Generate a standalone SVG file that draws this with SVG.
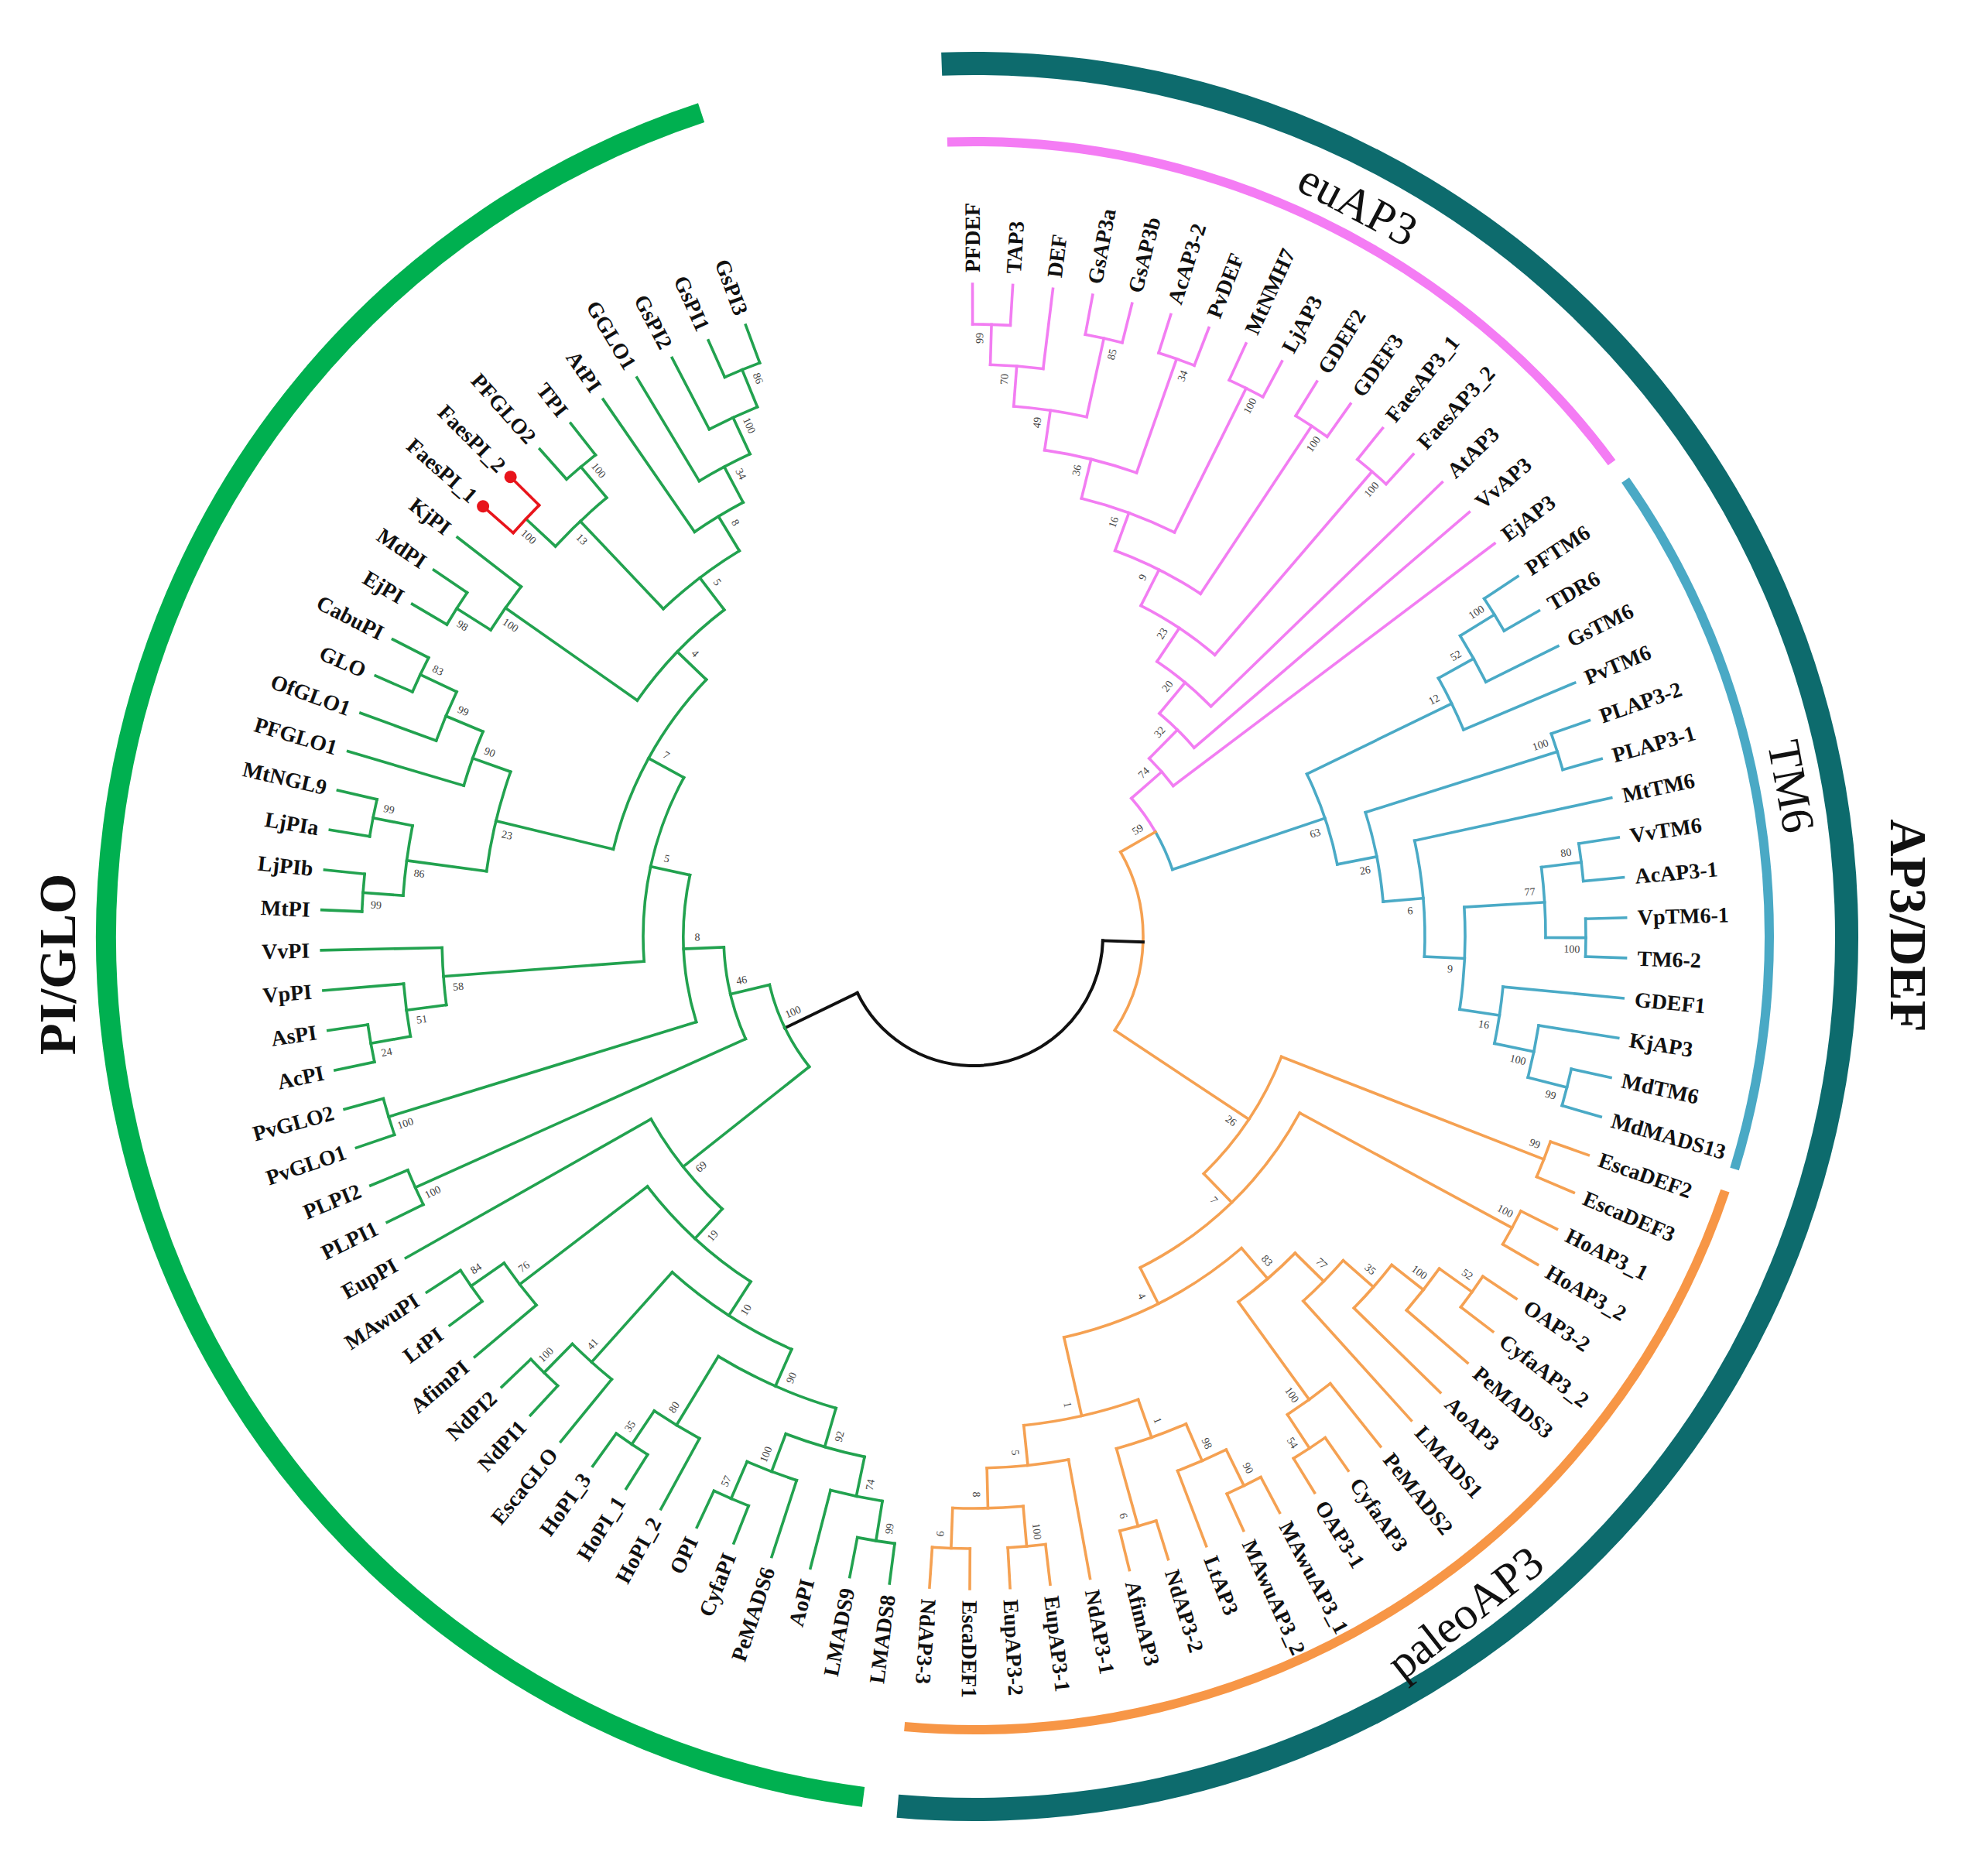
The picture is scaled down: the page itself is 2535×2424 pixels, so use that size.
<svg xmlns="http://www.w3.org/2000/svg" width="2535" height="2424" viewBox="0 0 2535 2424">
<style>
.lf{font-family:"Liberation Serif","Times New Roman",serif;font-weight:bold;font-size:28px;fill:#111;dominant-baseline:central}
.e{text-anchor:end}
.bs{font-family:"Liberation Serif","Times New Roman",serif;font-size:14px;fill:#444;text-anchor:middle;dominant-baseline:central}
.cl{font-family:"Liberation Serif","Times New Roman",serif;font-size:60px;fill:#111;text-anchor:middle;dominant-baseline:central}
.big{font-family:"Liberation Serif","Times New Roman",serif;font-weight:bold;font-size:67px;fill:#111;text-anchor:middle;dominant-baseline:central}
.ca{fill:none}
</style>
<rect width="2535" height="2424" fill="#fff"/>
<g transform="translate(1258 1210)">
<g id="clade-arcs" class="ca">
<circle r="1121" pathLength="360" stroke-dasharray="154.4 360" transform="rotate(97.3)" stroke="#00b050" stroke-width="26"/>
<circle r="1128" pathLength="360" stroke-dasharray="187.1 360" transform="rotate(-92.1)" stroke="#0d6b6d" stroke-width="30"/>
<circle r="1027" pathLength="360" stroke-dasharray="55.3 360" transform="rotate(-91.9)" stroke="#f47cf4" stroke-width="12"/>
<circle r="1028" pathLength="360" stroke-dasharray="52 360" transform="rotate(-35)" stroke="#4aa9c5" stroke-width="12"/>
<circle r="1025" pathLength="360" stroke-dasharray="76.3 360" transform="rotate(18.7)" stroke="#f79646" stroke-width="12"/>
</g>
<g id="clade-labels">
<text class="cl" transform="rotate(-62.3) translate(1068 0) rotate(90)">euAP3</text>
<text class="cl" font-size="64" transform="rotate(-10.4) translate(1074 0) rotate(90)">TM6</text>
<text class="cl" font-size="62" transform="rotate(54) translate(1080 0) rotate(-92)">paleoAP3</text>
<text class="big" transform="translate(1208 -14) rotate(90)">AP3/DEF</text>
<text class="big" transform="translate(-1184 36) rotate(-90)">PI/GLO</text>
</g>
<g id="connectors" fill="none" stroke-width="3.6" stroke-linecap="square">
<g id="c-euAP3" stroke="#f27df2">
<line x1="791" x2="843" transform="rotate(-90.10)"/>
<line x1="791" x2="843" transform="rotate(-86.56)"/>
<line x1="739" x2="843" transform="rotate(-83.02)"/>
<line x1="791" x2="843" transform="rotate(-79.49)"/>
<line x1="791" x2="843" transform="rotate(-75.95)"/>
<line x1="791" x2="843" transform="rotate(-72.41)"/>
<line x1="791" x2="843" transform="rotate(-68.87)"/>
<line x1="791" x2="843" transform="rotate(-65.33)"/>
<line x1="791" x2="843" transform="rotate(-61.80)"/>
<line x1="791" x2="843" transform="rotate(-58.26)"/>
<line x1="791" x2="843" transform="rotate(-54.72)"/>
<line x1="791" x2="843" transform="rotate(-51.18)"/>
<line x1="791" x2="843" transform="rotate(-47.64)"/>
<line x1="427" x2="843" transform="rotate(-44.11)"/>
<line x1="375" x2="843" transform="rotate(-40.57)"/>
<line x1="323" x2="843" transform="rotate(-37.03)"/>
<line x1="739" x2="791" transform="rotate(-88.33)"/>
<line x1="687" x2="739" transform="rotate(-85.68)"/>
<line x1="687" x2="791" transform="rotate(-77.72)"/>
<line x1="635" x2="687" transform="rotate(-81.70)"/>
<line x1="635" x2="791" transform="rotate(-70.64)"/>
<line x1="583" x2="635" transform="rotate(-76.17)"/>
<line x1="583" x2="791" transform="rotate(-63.57)"/>
<line x1="531" x2="583" transform="rotate(-69.87)"/>
<line x1="531" x2="791" transform="rotate(-56.49)"/>
<line x1="479" x2="531" transform="rotate(-63.18)"/>
<line x1="479" x2="791" transform="rotate(-49.41)"/>
<line x1="427" x2="479" transform="rotate(-56.30)"/>
<line x1="375" x2="427" transform="rotate(-50.21)"/>
<line x1="323" x2="375" transform="rotate(-45.39)"/>
<line x1="271" x2="323" transform="rotate(-41.21)"/>
<circle r="791" pathLength="360" stroke-dasharray="3.54 360" transform="rotate(-90.10)"/>
<circle r="739" pathLength="360" stroke-dasharray="5.31 360" transform="rotate(-88.33)"/>
<circle r="791" pathLength="360" stroke-dasharray="3.54 360" transform="rotate(-79.49)"/>
<circle r="687" pathLength="360" stroke-dasharray="7.96 360" transform="rotate(-85.68)"/>
<circle r="791" pathLength="360" stroke-dasharray="3.54 360" transform="rotate(-72.41)"/>
<circle r="635" pathLength="360" stroke-dasharray="11.06 360" transform="rotate(-81.70)"/>
<circle r="791" pathLength="360" stroke-dasharray="3.53 360" transform="rotate(-65.33)"/>
<circle r="583" pathLength="360" stroke-dasharray="12.60 360" transform="rotate(-76.17)"/>
<circle r="791" pathLength="360" stroke-dasharray="3.54 360" transform="rotate(-58.26)"/>
<circle r="531" pathLength="360" stroke-dasharray="13.38 360" transform="rotate(-69.87)"/>
<circle r="791" pathLength="360" stroke-dasharray="3.54 360" transform="rotate(-51.18)"/>
<circle r="479" pathLength="360" stroke-dasharray="13.77 360" transform="rotate(-63.18)"/>
<circle r="427" pathLength="360" stroke-dasharray="12.19 360" transform="rotate(-56.30)"/>
<circle r="375" pathLength="360" stroke-dasharray="9.64 360" transform="rotate(-50.21)"/>
<circle r="323" pathLength="360" stroke-dasharray="8.36 360" transform="rotate(-45.39)"/>
<circle r="271" pathLength="360" stroke-dasharray="11.30 360" transform="rotate(-41.21)"/>
</g>
<g id="c-TM6" stroke="#4aaac6">
<line x1="791" x2="843" transform="rotate(-33.49)"/>
<line x1="791" x2="843" transform="rotate(-29.95)"/>
<line x1="739" x2="843" transform="rotate(-26.42)"/>
<line x1="687" x2="843" transform="rotate(-22.88)"/>
<line x1="791" x2="843" transform="rotate(-19.34)"/>
<line x1="791" x2="843" transform="rotate(-15.80)"/>
<line x1="583" x2="843" transform="rotate(-12.26)"/>
<line x1="791" x2="843" transform="rotate(-8.73)"/>
<line x1="791" x2="843" transform="rotate(-5.19)"/>
<line x1="791" x2="843" transform="rotate(-1.65)"/>
<line x1="791" x2="843" transform="rotate(1.89)"/>
<line x1="687" x2="843" transform="rotate(5.43)"/>
<line x1="739" x2="843" transform="rotate(8.96)"/>
<line x1="791" x2="843" transform="rotate(12.50)"/>
<line x1="791" x2="843" transform="rotate(16.04)"/>
<line x1="739" x2="791" transform="rotate(-31.72)"/>
<line x1="687" x2="739" transform="rotate(-29.07)"/>
<line x1="479" x2="687" transform="rotate(-25.98)"/>
<line x1="531" x2="791" transform="rotate(-17.57)"/>
<line x1="739" x2="791" transform="rotate(-6.96)"/>
<line x1="739" x2="791" transform="rotate(0.12)"/>
<line x1="635" x2="739" transform="rotate(-3.42)"/>
<line x1="739" x2="791" transform="rotate(14.27)"/>
<line x1="687" x2="739" transform="rotate(11.62)"/>
<line x1="635" x2="687" transform="rotate(8.53)"/>
<line x1="583" x2="635" transform="rotate(2.56)"/>
<line x1="531" x2="583" transform="rotate(-4.85)"/>
<line x1="479" x2="531" transform="rotate(-11.21)"/>
<line x1="271" x2="479" transform="rotate(-18.60)"/>
<circle r="791" pathLength="360" stroke-dasharray="3.54 360" transform="rotate(-33.49)"/>
<circle r="739" pathLength="360" stroke-dasharray="5.30 360" transform="rotate(-31.72)"/>
<circle r="687" pathLength="360" stroke-dasharray="6.19 360" transform="rotate(-29.07)"/>
<circle r="791" pathLength="360" stroke-dasharray="3.54 360" transform="rotate(-19.34)"/>
<circle r="791" pathLength="360" stroke-dasharray="3.54 360" transform="rotate(-8.73)"/>
<circle r="791" pathLength="360" stroke-dasharray="3.54 360" transform="rotate(-1.65)"/>
<circle r="739" pathLength="360" stroke-dasharray="7.08 360" transform="rotate(-6.96)"/>
<circle r="791" pathLength="360" stroke-dasharray="3.54 360" transform="rotate(12.50)"/>
<circle r="739" pathLength="360" stroke-dasharray="5.31 360" transform="rotate(8.96)"/>
<circle r="687" pathLength="360" stroke-dasharray="6.19 360" transform="rotate(5.43)"/>
<circle r="635" pathLength="360" stroke-dasharray="11.95 360" transform="rotate(-3.42)"/>
<circle r="583" pathLength="360" stroke-dasharray="14.82 360" transform="rotate(-12.26)"/>
<circle r="531" pathLength="360" stroke-dasharray="12.72 360" transform="rotate(-17.57)"/>
<circle r="479" pathLength="360" stroke-dasharray="14.77 360" transform="rotate(-25.98)"/>
<circle r="271" pathLength="360" stroke-dasharray="11.31 360" transform="rotate(-29.91)"/>
</g>
<g id="c-paleoAP3" stroke="#f5a152">
<line x1="791" x2="843" transform="rotate(19.58)"/>
<line x1="791" x2="843" transform="rotate(23.12)"/>
<line x1="791" x2="843" transform="rotate(26.65)"/>
<line x1="791" x2="843" transform="rotate(30.19)"/>
<line x1="791" x2="843" transform="rotate(33.73)"/>
<line x1="791" x2="843" transform="rotate(37.27)"/>
<line x1="739" x2="843" transform="rotate(40.81)"/>
<line x1="687" x2="843" transform="rotate(44.34)"/>
<line x1="635" x2="843" transform="rotate(47.88)"/>
<line x1="739" x2="843" transform="rotate(51.42)"/>
<line x1="791" x2="843" transform="rotate(54.96)"/>
<line x1="791" x2="843" transform="rotate(58.50)"/>
<line x1="791" x2="843" transform="rotate(62.03)"/>
<line x1="791" x2="843" transform="rotate(65.57)"/>
<line x1="739" x2="843" transform="rotate(69.11)"/>
<line x1="791" x2="843" transform="rotate(72.65)"/>
<line x1="791" x2="843" transform="rotate(76.19)"/>
<line x1="687" x2="843" transform="rotate(79.72)"/>
<line x1="791" x2="843" transform="rotate(83.26)"/>
<line x1="791" x2="843" transform="rotate(86.80)"/>
<line x1="791" x2="843" transform="rotate(90.34)"/>
<line x1="791" x2="843" transform="rotate(93.88)"/>
<line x1="219" x2="271" transform="rotate(-29.91)"/>
<line x1="219" x2="427" transform="rotate(33.61)"/>
<line x1="427" x2="791" transform="rotate(21.35)"/>
<line x1="427" x2="479" transform="rotate(45.87)"/>
<line x1="479" x2="791" transform="rotate(28.42)"/>
<line x1="479" x2="531" transform="rotate(63.31)"/>
<line x1="531" x2="583" transform="rotate(49.33)"/>
<line x1="531" x2="635" transform="rotate(77.30)"/>
<line x1="583" x2="635" transform="rotate(44.57)"/>
<line x1="583" x2="739" transform="rotate(54.08)"/>
<line x1="635" x2="687" transform="rotate(41.25)"/>
<line x1="687" x2="739" transform="rotate(38.16)"/>
<line x1="739" x2="791" transform="rotate(35.50)"/>
<line x1="739" x2="791" transform="rotate(56.73)"/>
<line x1="635" x2="687" transform="rotate(70.44)"/>
<line x1="635" x2="687" transform="rotate(84.15)"/>
<line x1="687" x2="739" transform="rotate(66.46)"/>
<line x1="687" x2="791" transform="rotate(74.42)"/>
<line x1="739" x2="791" transform="rotate(63.80)"/>
<line x1="687" x2="739" transform="rotate(88.57)"/>
<line x1="739" x2="791" transform="rotate(85.03)"/>
<line x1="739" x2="791" transform="rotate(92.11)"/>
<circle r="219" pathLength="360" stroke-dasharray="63.52 360" transform="rotate(-29.91)"/>
<circle r="791" pathLength="360" stroke-dasharray="3.54 360" transform="rotate(19.58)"/>
<circle r="791" pathLength="360" stroke-dasharray="3.54 360" transform="rotate(26.65)"/>
<circle r="791" pathLength="360" stroke-dasharray="3.54 360" transform="rotate(33.73)"/>
<circle r="739" pathLength="360" stroke-dasharray="5.31 360" transform="rotate(35.50)"/>
<circle r="687" pathLength="360" stroke-dasharray="6.18 360" transform="rotate(38.16)"/>
<circle r="635" pathLength="360" stroke-dasharray="6.63 360" transform="rotate(41.25)"/>
<circle r="791" pathLength="360" stroke-dasharray="3.54 360" transform="rotate(54.96)"/>
<circle r="739" pathLength="360" stroke-dasharray="5.31 360" transform="rotate(51.42)"/>
<circle r="583" pathLength="360" stroke-dasharray="9.51 360" transform="rotate(44.57)"/>
<circle r="791" pathLength="360" stroke-dasharray="3.54 360" transform="rotate(62.03)"/>
<circle r="739" pathLength="360" stroke-dasharray="5.31 360" transform="rotate(63.80)"/>
<circle r="791" pathLength="360" stroke-dasharray="3.54 360" transform="rotate(72.65)"/>
<circle r="687" pathLength="360" stroke-dasharray="7.96 360" transform="rotate(66.46)"/>
<circle r="791" pathLength="360" stroke-dasharray="3.54 360" transform="rotate(83.26)"/>
<circle r="791" pathLength="360" stroke-dasharray="3.54 360" transform="rotate(90.34)"/>
<circle r="739" pathLength="360" stroke-dasharray="7.08 360" transform="rotate(85.03)"/>
<circle r="687" pathLength="360" stroke-dasharray="8.85 360" transform="rotate(79.72)"/>
<circle r="635" pathLength="360" stroke-dasharray="13.71 360" transform="rotate(70.44)"/>
<circle r="531" pathLength="360" stroke-dasharray="27.97 360" transform="rotate(49.33)"/>
<circle r="479" pathLength="360" stroke-dasharray="34.89 360" transform="rotate(28.42)"/>
<circle r="427" pathLength="360" stroke-dasharray="24.52 360" transform="rotate(21.35)"/>
</g>
<g id="c-root" stroke="#111" stroke-width="4">
<line x1="167" x2="219" transform="rotate(1.85)"/>
<line x1="167" x2="271" transform="rotate(154.13)"/>
<circle r="167" pathLength="360" stroke-dasharray="152.28 360" transform="rotate(1.85)"/>
</g>
<g id="c-PIGLO" stroke="#22a24f">
<line x1="791" x2="843" transform="rotate(97.41)"/>
<line x1="791" x2="843" transform="rotate(100.95)"/>
<line x1="739" x2="843" transform="rotate(104.49)"/>
<line x1="739" x2="843" transform="rotate(108.03)"/>
<line x1="791" x2="843" transform="rotate(111.57)"/>
<line x1="791" x2="843" transform="rotate(115.10)"/>
<line x1="739" x2="843" transform="rotate(118.64)"/>
<line x1="791" x2="843" transform="rotate(122.18)"/>
<line x1="791" x2="843" transform="rotate(125.72)"/>
<line x1="739" x2="843" transform="rotate(129.26)"/>
<line x1="791" x2="843" transform="rotate(132.79)"/>
<line x1="791" x2="843" transform="rotate(136.33)"/>
<line x1="739" x2="843" transform="rotate(139.87)"/>
<line x1="791" x2="843" transform="rotate(143.41)"/>
<line x1="791" x2="843" transform="rotate(146.95)"/>
<line x1="479" x2="843" transform="rotate(150.48)"/>
<line x1="791" x2="843" transform="rotate(154.02)"/>
<line x1="791" x2="843" transform="rotate(157.56)"/>
<line x1="791" x2="843" transform="rotate(161.10)"/>
<line x1="791" x2="843" transform="rotate(164.64)"/>
<line x1="791" x2="843" transform="rotate(168.17)"/>
<line x1="791" x2="843" transform="rotate(171.71)"/>
<line x1="739" x2="843" transform="rotate(175.25)"/>
<line x1="687" x2="843" transform="rotate(178.79)"/>
<line x1="791" x2="843" transform="rotate(182.33)"/>
<line x1="791" x2="843" transform="rotate(185.86)"/>
<line x1="791" x2="843" transform="rotate(189.40)"/>
<line x1="791" x2="843" transform="rotate(192.94)"/>
<line x1="687" x2="843" transform="rotate(196.48)"/>
<line x1="739" x2="843" transform="rotate(200.02)"/>
<line x1="791" x2="843" transform="rotate(203.55)"/>
<line x1="791" x2="843" transform="rotate(207.09)"/>
<line x1="791" x2="843" transform="rotate(210.63)"/>
<line x1="791" x2="843" transform="rotate(214.17)"/>
<line x1="739" x2="843" transform="rotate(217.71)"/>
<line x1="791" x2="843" transform="rotate(228.32)"/>
<line x1="791" x2="843" transform="rotate(231.86)"/>
<line x1="635" x2="843" transform="rotate(235.40)"/>
<line x1="687" x2="843" transform="rotate(238.93)"/>
<line x1="739" x2="843" transform="rotate(242.47)"/>
<line x1="791" x2="843" transform="rotate(246.01)"/>
<line x1="791" x2="843" transform="rotate(249.55)"/>
<line x1="271" x2="479" transform="rotate(141.59)"/>
<line x1="271" x2="323" transform="rotate(166.67)"/>
<line x1="479" x2="531" transform="rotate(132.69)"/>
<line x1="531" x2="739" transform="rotate(142.53)"/>
<line x1="739" x2="791" transform="rotate(145.18)"/>
<line x1="531" x2="583" transform="rotate(122.85)"/>
<line x1="583" x2="739" transform="rotate(131.91)"/>
<line x1="739" x2="791" transform="rotate(134.56)"/>
<line x1="583" x2="635" transform="rotate(113.79)"/>
<line x1="635" x2="687" transform="rotate(106.27)"/>
<line x1="635" x2="739" transform="rotate(121.30)"/>
<line x1="739" x2="791" transform="rotate(123.95)"/>
<line x1="687" x2="739" transform="rotate(101.84)"/>
<line x1="739" x2="791" transform="rotate(99.18)"/>
<line x1="687" x2="739" transform="rotate(110.69)"/>
<line x1="739" x2="791" transform="rotate(113.34)"/>
<line x1="323" x2="791" transform="rotate(155.79)"/>
<line x1="323" x2="375" transform="rotate(177.54)"/>
<line x1="375" x2="791" transform="rotate(162.87)"/>
<line x1="375" x2="427" transform="rotate(192.21)"/>
<line x1="427" x2="687" transform="rotate(175.69)"/>
<line x1="687" x2="739" transform="rotate(172.60)"/>
<line x1="739" x2="791" transform="rotate(169.94)"/>
<line x1="427" x2="479" transform="rotate(208.73)"/>
<line x1="479" x2="635" transform="rotate(193.60)"/>
<line x1="635" x2="687" transform="rotate(199.58)"/>
<line x1="687" x2="739" transform="rotate(202.67)"/>
<line x1="739" x2="791" transform="rotate(205.32)"/>
<line x1="635" x2="739" transform="rotate(187.63)"/>
<line x1="739" x2="791" transform="rotate(191.17)"/>
<line x1="739" x2="791" transform="rotate(184.10)"/>
<line x1="479" x2="531" transform="rotate(223.85)"/>
<line x1="531" x2="739" transform="rotate(215.06)"/>
<line x1="739" x2="791" transform="rotate(212.40)"/>
<line x1="531" x2="583" transform="rotate(232.64)"/>
<line x1="583" x2="739" transform="rotate(226.55)"/>
<line x1="739" x2="791" transform="rotate(223.01)"/>
<line x1="739" x2="791" transform="rotate(230.09)"/>
<line x1="583" x2="635" transform="rotate(238.72)"/>
<line x1="635" x2="687" transform="rotate(242.03)"/>
<line x1="687" x2="739" transform="rotate(245.13)"/>
<line x1="739" x2="791" transform="rotate(247.78)"/>
<circle r="271" pathLength="360" stroke-dasharray="25.08 360" transform="rotate(141.59)"/>
<circle r="791" pathLength="360" stroke-dasharray="3.54 360" transform="rotate(246.01)"/>
<circle r="739" pathLength="360" stroke-dasharray="5.31 360" transform="rotate(242.47)"/>
<circle r="687" pathLength="360" stroke-dasharray="6.20 360" transform="rotate(238.93)"/>
<circle r="635" pathLength="360" stroke-dasharray="6.63 360" transform="rotate(235.40)"/>
<circle r="791" pathLength="360" stroke-dasharray="3.54 360" transform="rotate(228.32)"/>
<circle r="739" pathLength="360" stroke-dasharray="7.08 360" transform="rotate(223.01)"/>
<circle r="583" pathLength="360" stroke-dasharray="12.17 360" transform="rotate(226.55)"/>
<circle r="791" pathLength="360" stroke-dasharray="3.54 360" transform="rotate(210.63)"/>
<circle r="739" pathLength="360" stroke-dasharray="5.31 360" transform="rotate(212.40)"/>
<circle r="531" pathLength="360" stroke-dasharray="17.58 360" transform="rotate(215.06)"/>
<circle r="791" pathLength="360" stroke-dasharray="3.54 360" transform="rotate(203.55)"/>
<circle r="739" pathLength="360" stroke-dasharray="5.30 360" transform="rotate(200.02)"/>
<circle r="687" pathLength="360" stroke-dasharray="6.19 360" transform="rotate(196.48)"/>
<circle r="791" pathLength="360" stroke-dasharray="3.54 360" transform="rotate(189.40)"/>
<circle r="791" pathLength="360" stroke-dasharray="3.53 360" transform="rotate(182.33)"/>
<circle r="739" pathLength="360" stroke-dasharray="7.07 360" transform="rotate(184.10)"/>
<circle r="635" pathLength="360" stroke-dasharray="11.95 360" transform="rotate(187.63)"/>
<circle r="479" pathLength="360" stroke-dasharray="30.25 360" transform="rotate(193.60)"/>
<circle r="791" pathLength="360" stroke-dasharray="3.54 360" transform="rotate(168.17)"/>
<circle r="739" pathLength="360" stroke-dasharray="5.31 360" transform="rotate(169.94)"/>
<circle r="687" pathLength="360" stroke-dasharray="6.19 360" transform="rotate(172.60)"/>
<circle r="427" pathLength="360" stroke-dasharray="33.04 360" transform="rotate(175.69)"/>
<circle r="791" pathLength="360" stroke-dasharray="3.54 360" transform="rotate(161.10)"/>
<circle r="375" pathLength="360" stroke-dasharray="29.34 360" transform="rotate(162.87)"/>
<circle r="791" pathLength="360" stroke-dasharray="3.54 360" transform="rotate(154.02)"/>
<circle r="323" pathLength="360" stroke-dasharray="21.75 360" transform="rotate(155.79)"/>
<circle r="791" pathLength="360" stroke-dasharray="3.54 360" transform="rotate(143.41)"/>
<circle r="739" pathLength="360" stroke-dasharray="5.31 360" transform="rotate(139.87)"/>
<circle r="791" pathLength="360" stroke-dasharray="3.54 360" transform="rotate(132.79)"/>
<circle r="739" pathLength="360" stroke-dasharray="5.30 360" transform="rotate(129.26)"/>
<circle r="791" pathLength="360" stroke-dasharray="3.53 360" transform="rotate(111.57)"/>
<circle r="739" pathLength="360" stroke-dasharray="5.31 360" transform="rotate(108.03)"/>
<circle r="791" pathLength="360" stroke-dasharray="3.54 360" transform="rotate(97.41)"/>
<circle r="739" pathLength="360" stroke-dasharray="5.31 360" transform="rotate(99.18)"/>
<circle r="687" pathLength="360" stroke-dasharray="8.85 360" transform="rotate(101.84)"/>
<circle r="791" pathLength="360" stroke-dasharray="3.54 360" transform="rotate(122.18)"/>
<circle r="739" pathLength="360" stroke-dasharray="5.31 360" transform="rotate(118.64)"/>
<circle r="635" pathLength="360" stroke-dasharray="15.03 360" transform="rotate(106.27)"/>
<circle r="583" pathLength="360" stroke-dasharray="18.12 360" transform="rotate(113.79)"/>
<circle r="531" pathLength="360" stroke-dasharray="19.68 360" transform="rotate(122.85)"/>
<circle r="479" pathLength="360" stroke-dasharray="17.79 360" transform="rotate(132.69)"/>
</g>
<g id="c-Faes" stroke="#e8141b">
<line x1="791" x2="843" transform="rotate(221.24)"/>
<line x1="791" x2="843" transform="rotate(224.78)"/>
<circle r="791" pathLength="360" stroke-dasharray="3.54 360" transform="rotate(221.24)"/>
</g>
</g>
<g id="leaves">
<g id="L-PFDEF" transform="rotate(-90.10)"><text class="lf" x="858">PFDEF</text></g>
<g id="L-TAP3" transform="rotate(-86.56)"><text class="lf" x="858">TAP3</text></g>
<g id="L-DEF" transform="rotate(-83.02)"><text class="lf" x="858">DEF</text></g>
<g id="L-GsAP3a" transform="rotate(-79.49)"><text class="lf" x="858">GsAP3a</text></g>
<g id="L-GsAP3b" transform="rotate(-75.95)"><text class="lf" x="858">GsAP3b</text></g>
<g id="L-AcAP3-2" transform="rotate(-72.41)"><text class="lf" x="858">AcAP3-2</text></g>
<g id="L-PvDEF" transform="rotate(-68.87)"><text class="lf" x="858">PvDEF</text></g>
<g id="L-MtNMH7" transform="rotate(-65.33)"><text class="lf" x="858">MtNMH7</text></g>
<g id="L-LjAP3" transform="rotate(-61.80)"><text class="lf" x="858">LjAP3</text></g>
<g id="L-GDEF2" transform="rotate(-58.26)"><text class="lf" x="858">GDEF2</text></g>
<g id="L-GDEF3" transform="rotate(-54.72)"><text class="lf" x="858">GDEF3</text></g>
<g id="L-FaesAP3_1" transform="rotate(-51.18)"><text class="lf" x="858">FaesAP3_1</text></g>
<g id="L-FaesAP3_2" transform="rotate(-47.64)"><text class="lf" x="858">FaesAP3_2</text></g>
<g id="L-AtAP3" transform="rotate(-44.11)"><text class="lf" x="858">AtAP3</text></g>
<g id="L-VvAP3" transform="rotate(-40.57)"><text class="lf" x="858">VvAP3</text></g>
<g id="L-EjAP3" transform="rotate(-37.03)"><text class="lf" x="858">EjAP3</text></g>
<g id="L-PFTM6" transform="rotate(-33.49)"><text class="lf" x="858">PFTM6</text></g>
<g id="L-TDR6" transform="rotate(-29.95)"><text class="lf" x="858">TDR6</text></g>
<g id="L-GsTM6" transform="rotate(-26.42)"><text class="lf" x="858">GsTM6</text></g>
<g id="L-PvTM6" transform="rotate(-22.88)"><text class="lf" x="858">PvTM6</text></g>
<g id="L-PLAP3-2" transform="rotate(-19.34)"><text class="lf" x="858">PLAP3-2</text></g>
<g id="L-PLAP3-1" transform="rotate(-15.80)"><text class="lf" x="858">PLAP3-1</text></g>
<g id="L-MtTM6" transform="rotate(-12.26)"><text class="lf" x="858">MtTM6</text></g>
<g id="L-VvTM6" transform="rotate(-8.73)"><text class="lf" x="858">VvTM6</text></g>
<g id="L-AcAP3-1" transform="rotate(-5.19)"><text class="lf" x="858">AcAP3-1</text></g>
<g id="L-VpTM6-1" transform="rotate(-1.65)"><text class="lf" x="858">VpTM6-1</text></g>
<g id="L-TM6-2" transform="rotate(1.89)"><text class="lf" x="858">TM6-2</text></g>
<g id="L-GDEF1" transform="rotate(5.43)"><text class="lf" x="858">GDEF1</text></g>
<g id="L-KjAP3" transform="rotate(8.96)"><text class="lf" x="858">KjAP3</text></g>
<g id="L-MdTM6" transform="rotate(12.50)"><text class="lf" x="858">MdTM6</text></g>
<g id="L-MdMADS13" transform="rotate(16.04)"><text class="lf" x="858">MdMADS13</text></g>
<g id="L-EscaDEF2" transform="rotate(19.58)"><text class="lf" x="858">EscaDEF2</text></g>
<g id="L-EscaDEF3" transform="rotate(23.12)"><text class="lf" x="858">EscaDEF3</text></g>
<g id="L-HoAP3_1" transform="rotate(26.65)"><text class="lf" x="858">HoAP3_1</text></g>
<g id="L-HoAP3_2" transform="rotate(30.19)"><text class="lf" x="858">HoAP3_2</text></g>
<g id="L-OAP3-2" transform="rotate(33.73)"><text class="lf" x="858">OAP3-2</text></g>
<g id="L-CyfaAP3_2" transform="rotate(37.27)"><text class="lf" x="858">CyfaAP3_2</text></g>
<g id="L-PeMADS3" transform="rotate(40.81)"><text class="lf" x="858">PeMADS3</text></g>
<g id="L-AoAP3" transform="rotate(44.34)"><text class="lf" x="858">AoAP3</text></g>
<g id="L-LMADS1" transform="rotate(47.88)"><text class="lf" x="858">LMADS1</text></g>
<g id="L-PeMADS2" transform="rotate(51.42)"><text class="lf" x="858">PeMADS2</text></g>
<g id="L-CyfaAP3" transform="rotate(54.96)"><text class="lf" x="858">CyfaAP3</text></g>
<g id="L-OAP3-1" transform="rotate(58.50)"><text class="lf" x="858">OAP3-1</text></g>
<g id="L-MAwuAP3_1" transform="rotate(62.03)"><text class="lf" x="858">MAwuAP3_1</text></g>
<g id="L-MAwuAP3_2" transform="rotate(65.57)"><text class="lf" x="858">MAwuAP3_2</text></g>
<g id="L-LtAP3" transform="rotate(69.11)"><text class="lf" x="858">LtAP3</text></g>
<g id="L-NdAP3-2" transform="rotate(72.65)"><text class="lf" x="858">NdAP3-2</text></g>
<g id="L-AfimAP3" transform="rotate(76.19)"><text class="lf" x="858">AfimAP3</text></g>
<g id="L-NdAP3-1" transform="rotate(79.72)"><text class="lf" x="858">NdAP3-1</text></g>
<g id="L-EupAP3-1" transform="rotate(83.26)"><text class="lf" x="858">EupAP3-1</text></g>
<g id="L-EupAP3-2" transform="rotate(86.80)"><text class="lf" x="858">EupAP3-2</text></g>
<g id="L-EscaDEF1" transform="rotate(90.34)"><text class="lf" x="858">EscaDEF1</text></g>
<g id="L-NdAP3-3" transform="rotate(93.88)"><text class="lf" x="858">NdAP3-3</text></g>
<g id="L-LMADS8" transform="rotate(97.41)"><text class="lf e" x="-858" transform="rotate(180)">LMADS8</text></g>
<g id="L-LMADS9" transform="rotate(100.95)"><text class="lf e" x="-858" transform="rotate(180)">LMADS9</text></g>
<g id="L-AoPI" transform="rotate(104.49)"><text class="lf e" x="-858" transform="rotate(180)">AoPI</text></g>
<g id="L-PeMADS6" transform="rotate(108.03)"><text class="lf e" x="-858" transform="rotate(180)">PeMADS6</text></g>
<g id="L-CyfaPI" transform="rotate(111.57)"><text class="lf e" x="-858" transform="rotate(180)">CyfaPI</text></g>
<g id="L-OPI" transform="rotate(115.10)"><text class="lf e" x="-858" transform="rotate(180)">OPI</text></g>
<g id="L-HoPI_2" transform="rotate(118.64)"><text class="lf e" x="-858" transform="rotate(180)">HoPI_2</text></g>
<g id="L-HoPI_1" transform="rotate(122.18)"><text class="lf e" x="-858" transform="rotate(180)">HoPI_1</text></g>
<g id="L-HoPI_3" transform="rotate(125.72)"><text class="lf e" x="-858" transform="rotate(180)">HoPI_3</text></g>
<g id="L-EscaGLO" transform="rotate(129.26)"><text class="lf e" x="-858" transform="rotate(180)">EscaGLO</text></g>
<g id="L-NdPI1" transform="rotate(132.79)"><text class="lf e" x="-858" transform="rotate(180)">NdPI1</text></g>
<g id="L-NdPI2" transform="rotate(136.33)"><text class="lf e" x="-858" transform="rotate(180)">NdPI2</text></g>
<g id="L-AfimPI" transform="rotate(139.87)"><text class="lf e" x="-858" transform="rotate(180)">AfimPI</text></g>
<g id="L-LtPI" transform="rotate(143.41)"><text class="lf e" x="-858" transform="rotate(180)">LtPI</text></g>
<g id="L-MAwuPI" transform="rotate(146.95)"><text class="lf e" x="-858" transform="rotate(180)">MAwuPI</text></g>
<g id="L-EupPI" transform="rotate(150.48)"><text class="lf e" x="-858" transform="rotate(180)">EupPI</text></g>
<g id="L-PLPI1" transform="rotate(154.02)"><text class="lf e" x="-858" transform="rotate(180)">PLPI1</text></g>
<g id="L-PLPI2" transform="rotate(157.56)"><text class="lf e" x="-858" transform="rotate(180)">PLPI2</text></g>
<g id="L-PvGLO1" transform="rotate(161.10)"><text class="lf e" x="-858" transform="rotate(180)">PvGLO1</text></g>
<g id="L-PvGLO2" transform="rotate(164.64)"><text class="lf e" x="-858" transform="rotate(180)">PvGLO2</text></g>
<g id="L-AcPI" transform="rotate(168.17)"><text class="lf e" x="-858" transform="rotate(180)">AcPI</text></g>
<g id="L-AsPI" transform="rotate(171.71)"><text class="lf e" x="-858" transform="rotate(180)">AsPI</text></g>
<g id="L-VpPI" transform="rotate(175.25)"><text class="lf e" x="-858" transform="rotate(180)">VpPI</text></g>
<g id="L-VvPI" transform="rotate(178.79)"><text class="lf e" x="-858" transform="rotate(180)">VvPI</text></g>
<g id="L-MtPI" transform="rotate(182.33)"><text class="lf e" x="-858" transform="rotate(180)">MtPI</text></g>
<g id="L-LjPIb" transform="rotate(185.86)"><text class="lf e" x="-858" transform="rotate(180)">LjPIb</text></g>
<g id="L-LjPIa" transform="rotate(189.40)"><text class="lf e" x="-858" transform="rotate(180)">LjPIa</text></g>
<g id="L-MtNGL9" transform="rotate(192.94)"><text class="lf e" x="-858" transform="rotate(180)">MtNGL9</text></g>
<g id="L-PFGLO1" transform="rotate(196.48)"><text class="lf e" x="-858" transform="rotate(180)">PFGLO1</text></g>
<g id="L-OfGLO1" transform="rotate(200.02)"><text class="lf e" x="-858" transform="rotate(180)">OfGLO1</text></g>
<g id="L-GLO" transform="rotate(203.55)"><text class="lf e" x="-858" transform="rotate(180)">GLO</text></g>
<g id="L-CabuPI" transform="rotate(207.09)"><text class="lf e" x="-858" transform="rotate(180)">CabuPI</text></g>
<g id="L-EjPI" transform="rotate(210.63)"><text class="lf e" x="-858" transform="rotate(180)">EjPI</text></g>
<g id="L-MdPI" transform="rotate(214.17)"><text class="lf e" x="-858" transform="rotate(180)">MdPI</text></g>
<g id="L-KjPI" transform="rotate(217.71)"><text class="lf e" x="-858" transform="rotate(180)">KjPI</text></g>
<g id="L-FaesPI_1" transform="rotate(221.24)"><circle cx="843" r="8" fill="#e8141b"/><text class="lf e" x="-858" transform="rotate(180)">FaesPI_1</text></g>
<g id="L-FaesPI_2" transform="rotate(224.78)"><circle cx="843" r="8" fill="#e8141b"/><text class="lf e" x="-858" transform="rotate(180)">FaesPI_2</text></g>
<g id="L-PFGLO2" transform="rotate(228.32)"><text class="lf e" x="-858" transform="rotate(180)">PFGLO2</text></g>
<g id="L-TPI" transform="rotate(231.86)"><text class="lf e" x="-858" transform="rotate(180)">TPI</text></g>
<g id="L-AtPI" transform="rotate(235.40)"><text class="lf e" x="-858" transform="rotate(180)">AtPI</text></g>
<g id="L-GGLO1" transform="rotate(238.93)"><text class="lf e" x="-858" transform="rotate(180)">GGLO1</text></g>
<g id="L-GsPI2" transform="rotate(242.47)"><text class="lf e" x="-858" transform="rotate(180)">GsPI2</text></g>
<g id="L-GsPI1" transform="rotate(246.01)"><text class="lf e" x="-858" transform="rotate(180)">GsPI1</text></g>
<g id="L-GsPI3" transform="rotate(249.55)"><text class="lf e" x="-858" transform="rotate(180)">GsPI3</text></g>
</g>
<g id="support">
<g id="S-a" transform="rotate(-89.42) translate(773 0)"><text class="bs">99</text></g>
<g id="S-b" transform="rotate(-86.84) translate(721 0)"><text class="bs">70</text></g>
<g id="S-c" transform="rotate(-76.63) translate(773 0)"><text class="bs">85</text></g>
<g id="S-d" transform="rotate(-82.95) translate(669 0)"><text class="bs">49</text></g>
<g id="S-e" transform="rotate(-69.55) translate(773 0)"><text class="bs">34</text></g>
<g id="S-f" transform="rotate(-77.52) translate(617 0)"><text class="bs">36</text></g>
<g id="S-g" transform="rotate(-62.48) translate(773 0)"><text class="bs">100</text></g>
<g id="S-h" transform="rotate(-71.34) translate(565 0)"><text class="bs">16</text></g>
<g id="S-i" transform="rotate(-55.40) translate(773 0)"><text class="bs">100</text></g>
<g id="S-j" transform="rotate(-64.80) translate(513 0)"><text class="bs">9</text></g>
<g id="S-k" transform="rotate(-48.32) translate(773 0)"><text class="bs">100</text></g>
<g id="S-l" transform="rotate(-58.09) translate(461 0)"><text class="bs">23</text></g>
<g id="S-m" transform="rotate(-52.22) translate(409 0)"><text class="bs">20</text></g>
<g id="S-n" transform="rotate(-47.68) translate(357 0)"><text class="bs">32</text></g>
<g id="S-o" transform="rotate(-43.87) translate(305 0)"><text class="bs">74</text></g>
<g id="S-p" transform="rotate(-33.08) translate(253 0)"><text class="bs">59</text></g>
<g id="S-t1" transform="rotate(-32.81) translate(773 0)"><text class="bs">100</text></g>
<g id="S-t2" transform="rotate(-30.23) translate(721 0)"><text class="bs">52</text></g>
<g id="S-t3" transform="rotate(-27.23) translate(669 0)"><text class="bs">12</text></g>
<g id="S-t4" transform="rotate(-18.66) translate(773 0)"><text class="bs">100</text></g>
<g id="S-t5" transform="rotate(-8.05) translate(773 0)"><text class="bs">80</text></g>
<g id="S-t6" transform="rotate(1.21) translate(773 0)"><text class="bs">100</text></g>
<g id="S-t7" transform="rotate(-4.58) translate(721 0)"><text class="bs">77</text></g>
<g id="S-t8" transform="rotate(15.36) translate(773 0)"><text class="bs">99</text></g>
<g id="S-t9" transform="rotate(12.78) translate(721 0)"><text class="bs">100</text></g>
<g id="S-t10" transform="rotate(9.78) translate(669 0)"><text class="bs">16</text></g>
<g id="S-t11" transform="rotate(3.91) translate(617 0)"><text class="bs">9</text></g>
<g id="S-t12" transform="rotate(-3.38) translate(565 0)"><text class="bs">6</text></g>
<g id="S-t13" transform="rotate(-9.59) translate(513 0)"><text class="bs">26</text></g>
<g id="S-t14" transform="rotate(-16.81) translate(461 0)"><text class="bs">63</text></g>
<g id="S-q1" transform="rotate(20.26) translate(773 0)"><text class="bs">99</text></g>
<g id="S-q2" transform="rotate(27.33) translate(773 0)"><text class="bs">100</text></g>
<g id="S-q3" transform="rotate(34.41) translate(773 0)"><text class="bs">52</text></g>
<g id="S-q4" transform="rotate(37.00) translate(721 0)"><text class="bs">100</text></g>
<g id="S-q5" transform="rotate(40.00) translate(669 0)"><text class="bs">35</text></g>
<g id="S-q6" transform="rotate(43.22) translate(617 0)"><text class="bs">77</text></g>
<g id="S-q7" transform="rotate(57.82) translate(773 0)"><text class="bs">54</text></g>
<g id="S-q8" transform="rotate(55.24) translate(721 0)"><text class="bs">100</text></g>
<g id="S-q9" transform="rotate(47.86) translate(565 0)"><text class="bs">83</text></g>
<g id="S-q10" transform="rotate(62.71) translate(773 0)"><text class="bs">90</text></g>
<g id="S-q11" transform="rotate(65.30) translate(721 0)"><text class="bs">98</text></g>
<g id="S-q12" transform="rotate(75.51) translate(773 0)"><text class="bs">6</text></g>
<g id="S-q13" transform="rotate(69.19) translate(669 0)"><text class="bs">1</text></g>
<g id="S-q14" transform="rotate(83.94) translate(773 0)"><text class="bs">100</text></g>
<g id="S-q15" transform="rotate(93.20) translate(773 0)"><text class="bs">9</text></g>
<g id="S-q16" transform="rotate(89.73) translate(721 0)"><text class="bs">8</text></g>
<g id="S-q17" transform="rotate(85.40) translate(669 0)"><text class="bs">5</text></g>
<g id="S-q18" transform="rotate(78.65) translate(617 0)"><text class="bs">1</text></g>
<g id="S-q19" transform="rotate(64.93) translate(513 0)"><text class="bs">4</text></g>
<g id="S-q20" transform="rotate(47.66) translate(461 0)"><text class="bs">7</text></g>
<g id="S-q21" transform="rotate(35.62) translate(409 0)"><text class="bs">26</text></g>
<g id="S-g1" transform="rotate(248.87) translate(773 0) rotate(180)"><text class="bs">86</text></g>
<g id="S-g2" transform="rotate(246.29) translate(721 0) rotate(180)"><text class="bs">100</text></g>
<g id="S-g3" transform="rotate(243.28) translate(669 0) rotate(180)"><text class="bs">34</text></g>
<g id="S-g4" transform="rotate(240.07) translate(617 0) rotate(180)"><text class="bs">8</text></g>
<g id="S-g5" transform="rotate(231.18) translate(773 0) rotate(180)"><text class="bs">100</text></g>
<g id="S-g6" transform="rotate(221.92) translate(773 0) rotate(180)"><text class="bs">100</text></g>
<g id="S-g7" transform="rotate(225.39) translate(721 0) rotate(180)"><text class="bs">13</text></g>
<g id="S-g8" transform="rotate(234.11) translate(565 0) rotate(180)"><text class="bs">5</text></g>
<g id="S-g9" transform="rotate(211.31) translate(773 0) rotate(180)"><text class="bs">98</text></g>
<g id="S-g10" transform="rotate(213.90) translate(721 0) rotate(180)"><text class="bs">100</text></g>
<g id="S-g11" transform="rotate(225.47) translate(513 0) rotate(180)"><text class="bs">4</text></g>
<g id="S-g12" transform="rotate(206.41) translate(773 0) rotate(180)"><text class="bs">83</text></g>
<g id="S-g13" transform="rotate(203.83) translate(721 0) rotate(180)"><text class="bs">99</text></g>
<g id="S-g14" transform="rotate(200.83) translate(669 0) rotate(180)"><text class="bs">90</text></g>
<g id="S-g15" transform="rotate(192.26) translate(773 0) rotate(180)"><text class="bs">99</text></g>
<g id="S-g16" transform="rotate(183.01) translate(773 0) rotate(180)"><text class="bs">99</text></g>
<g id="S-g17" transform="rotate(186.47) translate(721 0) rotate(180)"><text class="bs">86</text></g>
<g id="S-g18" transform="rotate(192.25) translate(617 0) rotate(180)"><text class="bs">23</text></g>
<g id="S-g19" transform="rotate(210.52) translate(461 0) rotate(180)"><text class="bs">7</text></g>
<g id="S-g20" transform="rotate(168.85) translate(773 0) rotate(180)"><text class="bs">24</text></g>
<g id="S-g21" transform="rotate(171.44) translate(721 0) rotate(180)"><text class="bs">51</text></g>
<g id="S-g22" transform="rotate(174.44) translate(669 0) rotate(180)"><text class="bs">58</text></g>
<g id="S-g23" transform="rotate(194.22) translate(409 0) rotate(180)"><text class="bs">5</text></g>
<g id="S-g24" transform="rotate(161.78) translate(773 0) rotate(180)"><text class="bs">100</text></g>
<g id="S-g25" transform="rotate(179.83) translate(357 0) rotate(180)"><text class="bs">8</text></g>
<g id="S-g26" transform="rotate(154.70) translate(773 0) rotate(180)"><text class="bs">100</text></g>
<g id="S-g27" transform="rotate(169.33) translate(305 0) rotate(180)"><text class="bs">46</text></g>
<g id="S-g28" transform="rotate(146.27) translate(773 0) rotate(180)"><text class="bs">84</text></g>
<g id="S-g29" transform="rotate(143.69) translate(721 0) rotate(180)"><text class="bs">76</text></g>
<g id="S-g30" transform="rotate(135.65) translate(773 0) rotate(180)"><text class="bs">100</text></g>
<g id="S-g31" transform="rotate(133.07) translate(721 0) rotate(180)"><text class="bs">41</text></g>
<g id="S-g32" transform="rotate(114.43) translate(773 0) rotate(180)"><text class="bs">57</text></g>
<g id="S-g33" transform="rotate(111.85) translate(721 0) rotate(180)"><text class="bs">100</text></g>
<g id="S-g34" transform="rotate(98.09) translate(773 0) rotate(180)"><text class="bs">99</text></g>
<g id="S-g35" transform="rotate(100.68) translate(721 0) rotate(180)"><text class="bs">74</text></g>
<g id="S-g36" transform="rotate(105.02) translate(669 0) rotate(180)"><text class="bs">92</text></g>
<g id="S-g37" transform="rotate(125.04) translate(773 0) rotate(180)"><text class="bs">35</text></g>
<g id="S-g38" transform="rotate(122.46) translate(721 0) rotate(180)"><text class="bs">80</text></g>
<g id="S-g39" transform="rotate(112.44) translate(617 0) rotate(180)"><text class="bs">90</text></g>
<g id="S-g40" transform="rotate(121.38) translate(565 0) rotate(180)"><text class="bs">10</text></g>
<g id="S-g41" transform="rotate(131.07) translate(513 0) rotate(180)"><text class="bs">19</text></g>
<g id="S-g42" transform="rotate(139.80) translate(461 0) rotate(180)"><text class="bs">69</text></g>
<g id="S-PIroot" transform="rotate(157.30) translate(253 0) rotate(180)"><text class="bs">100</text></g>
</g>
</g>
</svg>
